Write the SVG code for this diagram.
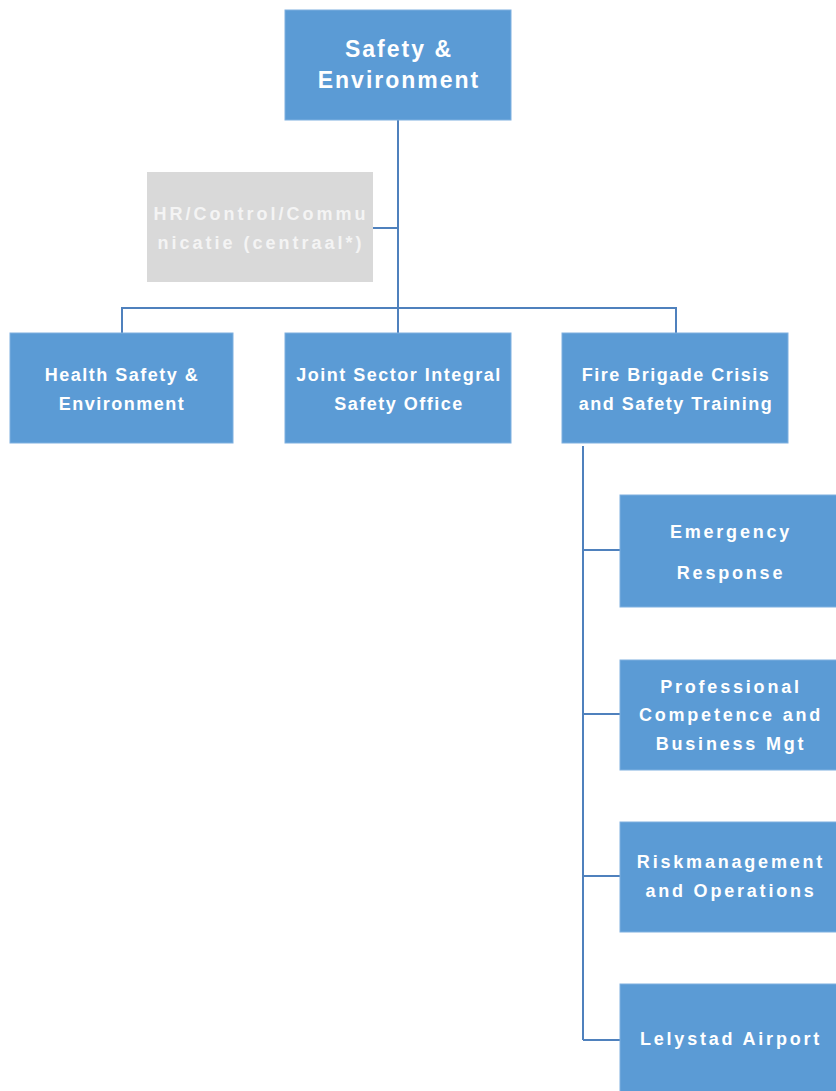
<svg xmlns="http://www.w3.org/2000/svg" width="836" height="1091" viewBox="0 0 836 1091">
<style>
.box{fill:#5B9BD5;stroke:#7FB0E0;stroke-width:1}
.gray{fill:#D9D9D9}
.t{font-family:"Liberation Sans",Arial,sans-serif;font-weight:bold;fill:#FFFFFF;text-anchor:middle;font-size:18px;letter-spacing:1.5px}
.tr{font-family:"Liberation Sans",Arial,sans-serif;font-weight:bold;fill:#FFFFFF;text-anchor:middle;font-size:18px;letter-spacing:2.8px}
.tt{font-family:"Liberation Sans",Arial,sans-serif;font-weight:bold;fill:#FFFFFF;text-anchor:middle;font-size:23px;letter-spacing:2px}
.tg{font-family:"Liberation Sans",Arial,sans-serif;font-weight:bold;fill:#F4F4F4;text-anchor:middle;font-size:18px;letter-spacing:3px}
.c{fill:none;stroke:#4F81BD;stroke-width:2}
</style>
<rect width="836" height="1091" fill="#FFFFFF"/>
<g id="connectors">
<path class="c" d="M398 120 V333"/>
<path class="c" d="M373 228 H398"/>
<path class="c" d="M122 333 V308 H676 V333"/>
<path class="c" d="M583 446 V1040"/>
<path class="c" d="M583 550 H620"/>
<path class="c" d="M583 714 H620"/>
<path class="c" d="M583 876 H620"/>
<path class="c" d="M583 1040 H620"/>
</g>
<g id="n-safety-environment">
<rect class="box" x="285" y="10" width="226" height="110"/>
<text class="tt" x="399" y="57">Safety &amp;</text>
<text class="tt" x="399" y="88">Environment</text>
</g>
<g id="n-hr">
<rect class="gray" x="147" y="172" width="226" height="110"/>
<text class="tg" x="261" y="220">HR/Control/Commu</text>
<text class="tg" x="261" y="249">nicatie (centraal*)</text>
</g>
<g id="n-hse">
<rect class="box" x="10" y="333" width="223" height="110"/>
<text class="t" x="122" y="381">Health Safety &amp;</text>
<text class="t" x="122" y="410">Environment</text>
</g>
<g id="n-jsiso">
<rect class="box" x="285" y="333" width="226" height="110"/>
<text class="t" x="399" y="381">Joint Sector Integral</text>
<text class="t" x="399" y="410">Safety Office</text>
</g>
<g id="n-fbcst">
<rect class="box" x="562" y="333" width="226" height="110"/>
<text class="t" x="676" y="381">Fire Brigade Crisis</text>
<text class="t" x="676" y="410">and Safety Training</text>
</g>
<g id="n-emergency">
<rect class="box" x="620" y="495" width="222" height="112"/>
<text class="tr" x="731" y="538">Emergency</text>
<text class="tr" x="731" y="579">Response</text>
</g>
<g id="n-professional">
<rect class="box" x="620" y="660" width="222" height="110"/>
<text class="tr" x="731" y="693">Professional</text>
<text class="tr" x="731" y="721">Competence and</text>
<text class="tr" x="731" y="750">Business Mgt</text>
</g>
<g id="n-risk">
<rect class="box" x="620" y="822" width="222" height="110"/>
<text class="tr" x="731" y="868">Riskmanagement</text>
<text class="tr" x="731" y="897">and Operations</text>
</g>
<g id="n-lelystad">
<rect class="box" x="620" y="984" width="222" height="112"/>
<text class="tr" x="731" y="1045">Lelystad Airport</text>
</g>
</svg>
